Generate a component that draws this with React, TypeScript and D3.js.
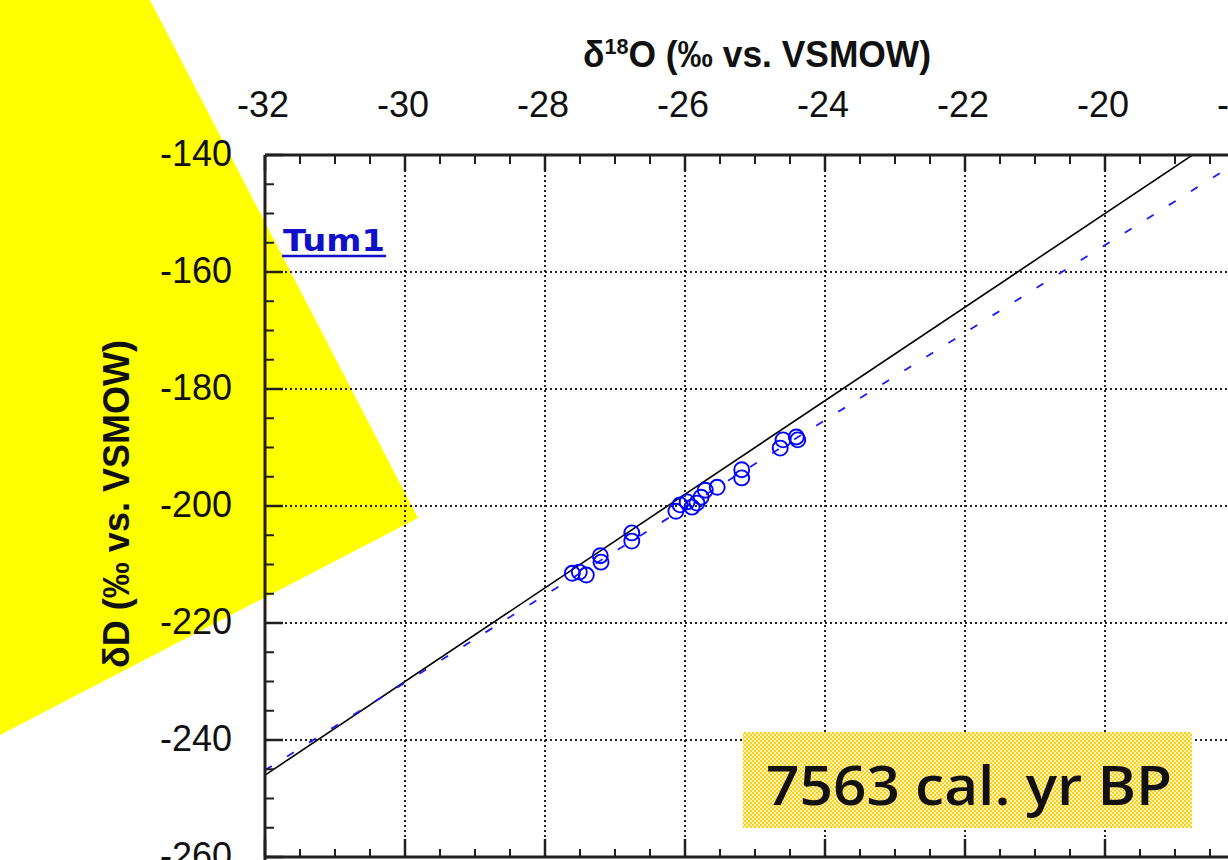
import React from "react";
import * as d3 from "d3";

// Tick values for the two axes (‰ vs. VSMOW)
const xTicks = [-32, -30, -28, -26, -24, -22, -20, -18];
const yTicks = [-140, -160, -180, -200, -220, -240, -260];

// Tum1 samples: δ18O and δD (‰ vs. VSMOW)
const d18O = [
  -27.61, -27.51, -27.41, -27.21, -27.2, -26.76, -26.76, -26.13, -26.07, -25.97, -25.9,
  -25.83, -25.77, -25.71, -25.54, -25.19, -25.19, -24.64, -24.6, -24.41, -24.39,
];
const dD = [
  -211.5, -211.3, -211.8, -208.5, -209.6, -204.6, -206.0, -200.9, -199.8, -199.3, -200.2,
  -199.5, -198.5, -197.3, -196.8, -193.8, -195.2, -190.1, -188.7, -188.2, -188.7,
];

// Global meteoric water line and local fit: δD = slope·δ18O + intercept
const gmwl = { slope: 8, intercept: 10 };
const lmwl = { slope: 7.48, intercept: -5.8 };

const ageLabel = "7563 cal. yr BP";
const siteLabel = "Tum1";

const W = 1228;
const H = 860;
const plot = { left: 265, top: 155, right: 1245, bottom: 857 };

export default function App() {
  const x = d3.scaleLinear().domain([-32, -18]).range([plot.left, plot.right]);
  const y = d3.scaleLinear().domain([-260, -140]).range([plot.bottom, plot.top]);

  const minorX = d3.range(-32, -18 + 0.001, 0.5).filter((v) => !xTicks.includes(v));
  const minorY = d3.range(-260, -140 + 0.001, 5).filter((v) => !yTicks.includes(v));

  const linePath = (p: { slope: number; intercept: number }) =>
    d3
      .line<number>()
      .x((v) => x(v))
      .y((v) => y(p.slope * v + p.intercept))(x.domain()) as string;

  const axisColor = "#231f20";
  const tickFont = "'Liberation Sans', Arial, sans-serif";

  return (
    <svg
      width={W}
      height={H}
      style={{ position: "absolute", left: 0, top: 0, background: "#fff" }}
    >
      <defs>
        <clipPath id="plotClip">
          <rect
            x={plot.left}
            y={plot.top}
            width={plot.right - plot.left}
            height={plot.bottom - plot.top}
          />
        </clipPath>
        <pattern id="dither" width="4" height="4" patternUnits="userSpaceOnUse">
          <rect width="4" height="4" fill="#fff4b8" />
          <rect width="2" height="2" fill="#ffcf1f" />
          <rect x="2" y="2" width="2" height="2" fill="#ffcf1f" />
        </pattern>
      </defs>

      {/* yellow highlight wedge */}
      <polygon points="0,0 150,0 418,518 0,735" fill="#ffff00" />

      {/* dotted grid */}
      <g stroke="#222" strokeWidth={2} strokeDasharray="2,3">
        {xTicks
          .filter((v) => v > -32 && v < -18)
          .map((v) => (
            <line key={"gx" + v} x1={x(v)} x2={x(v)} y1={plot.top} y2={plot.bottom} />
          ))}
        {yTicks
          .filter((v) => v > -260 && v < -140)
          .map((v) => (
            <line key={"gy" + v} x1={plot.left} x2={plot.right} y1={y(v)} y2={y(v)} />
          ))}
      </g>

      {/* meteoric water lines */}
      <g clipPath="url(#plotClip)">
        <path d={linePath(gmwl)} fill="none" stroke="#000" strokeWidth={1.6} />
        <path
          d={linePath(lmwl)}
          fill="none"
          stroke="#1a1aff"
          strokeWidth={1.8}
          strokeDasharray="8,18"
        />
      </g>

      {/* samples */}
      <g fill="none" stroke="#0000ff" strokeWidth={1.9}>
        {d18O.map((v, i) => (
          <circle key={i} cx={x(v)} cy={y(dD[i])} r={7.5} />
        ))}
      </g>

      {/* frame and ticks */}
      <g stroke={axisColor}>
        <line x1={plot.left} x2={plot.right} y1={plot.top} y2={plot.top} strokeWidth={3} />
        <line x1={plot.left} x2={plot.left} y1={plot.top} y2={plot.bottom + 3} strokeWidth={3} />
        <line x1={plot.left} x2={plot.right} y1={plot.bottom} y2={plot.bottom} strokeWidth={3} />
        {xTicks.map((v) => (
          <g key={"tx" + v} strokeWidth={2.5}>
            <line x1={x(v)} x2={x(v)} y1={plot.top} y2={plot.top + 16} />
            <line x1={x(v)} x2={x(v)} y1={plot.bottom} y2={plot.bottom - 18} />
          </g>
        ))}
        {minorX.map((v) => (
          <g key={"mx" + v} strokeWidth={2}>
            <line x1={x(v)} x2={x(v)} y1={plot.top} y2={plot.top + 9} />
            <line x1={x(v)} x2={x(v)} y1={plot.bottom} y2={plot.bottom - 8} />
          </g>
        ))}
        {yTicks.map((v) => (
          <line key={"ty" + v} x1={plot.left} x2={plot.left + 18} y1={y(v)} y2={y(v)} strokeWidth={2.5} />
        ))}
        {minorY.map((v) => (
          <line key={"my" + v} x1={plot.left} x2={plot.left + 9} y1={y(v)} y2={y(v)} strokeWidth={2} />
        ))}
      </g>

      {/* tick labels */}
      <g fontFamily={tickFont} fontSize={36} fill="#111">
        {xTicks.map((v) => (
          <text key={"lx" + v} x={x(v) - 2} y={117} textAnchor="middle">
            {v}
          </text>
        ))}
        {yTicks.map((v) => (
          <text key={"ly" + v} x={232} y={y(v) + 11} textAnchor="end">
            {v}
          </text>
        ))}
      </g>

      {/* axis titles */}
      <text
        x={757}
        y={67}
        textAnchor="middle"
        fontFamily="'Liberation Sans Narrow', 'Liberation Sans', Arial, sans-serif"
        fontWeight="bold"
        fontSize={36}
        fill="#111"
        textLength={348}
        lengthAdjust="spacingAndGlyphs"
      >
        δ<tspan fontSize={22} dy={-13}>18</tspan>
        <tspan dy={13}>O (‰ vs. VSMOW)</tspan>
      </text>
      <text
        transform="translate(129,504) rotate(-90)"
        textAnchor="middle"
        fontFamily="'Liberation Sans Narrow', 'Liberation Sans', Arial, sans-serif"
        fontWeight="bold"
        fontSize={36}
        fill="#111"
        textLength={328}
        lengthAdjust="spacingAndGlyphs"
      >
        δD (‰ vs. VSMOW)
      </text>

      {/* site label */}
      <text
        x={283}
        y={251}
        fontFamily="'DejaVu Sans', Verdana, sans-serif"
        fontWeight="bold"
        fontSize={31}
        fill="#1010c8"
        textLength={102}
        lengthAdjust="spacingAndGlyphs"
      >
        {siteLabel}
      </text>
      <line x1={282} x2={386} y1={256} y2={256} stroke="#1010c8" strokeWidth={2.5} />

      {/* age box */}
      <rect x={743} y={732} width={449} height={96} fill="url(#dither)" />
      <text
        x={766}
        y={805}
        fontFamily="'Open Sans', Lato, sans-serif"
        fontWeight={600}
        fontSize={54}
        fill="#111"
        textLength={406}
        lengthAdjust="spacingAndGlyphs"
      >
        {ageLabel}
      </text>
    </svg>
  );
}
